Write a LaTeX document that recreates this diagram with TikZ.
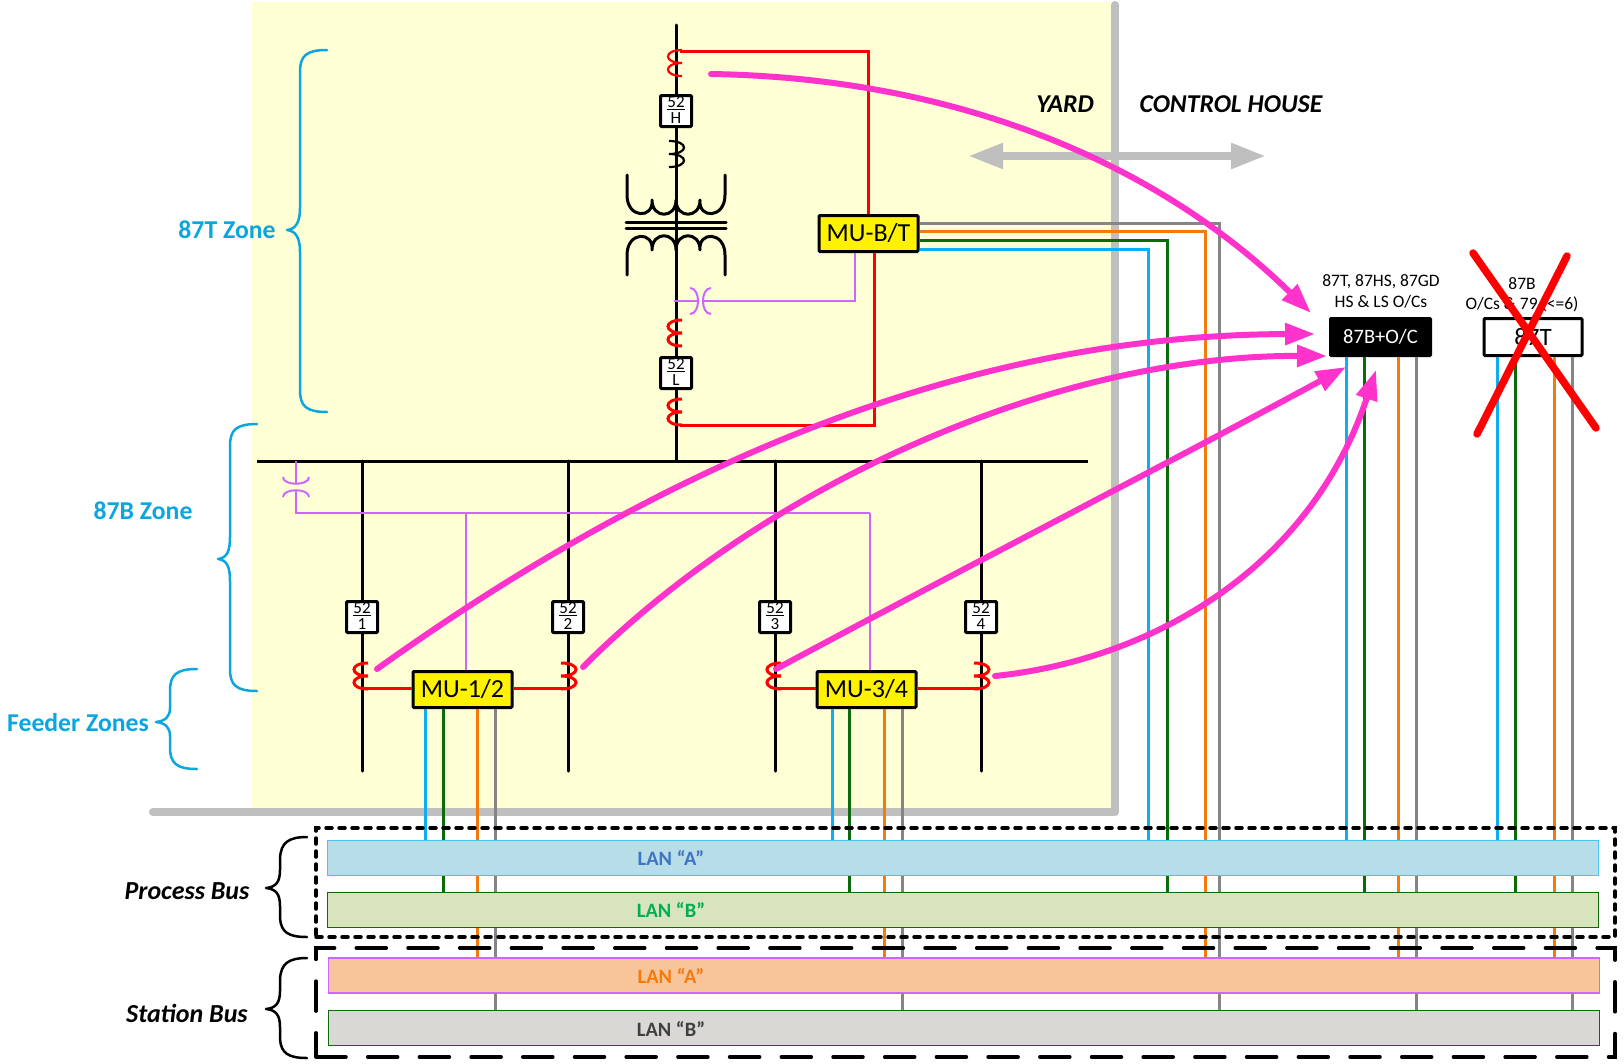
\documentclass[tikz,border=0pt]{standalone}
\usepackage{fontspec}
\setmainfont{Carlito}
\usetikzlibrary{arrows.meta}
\definecolor{bgyellow}{HTML}{FFFFD5}
\definecolor{wall}{HTML}{BFBFBF}
\definecolor{cblue}{HTML}{0CB0F2}
\definecolor{cgreen}{HTML}{0B6B0B}
\definecolor{corange}{HTML}{F47A0C}
\definecolor{cgray}{HTML}{858585}
\definecolor{cpurple}{HTML}{CC66FF}
\definecolor{cpink}{HTML}{FF33CC}
\definecolor{zone}{HTML}{0BA6DF}
\definecolor{lanAf}{HTML}{B7DDE8}
\definecolor{lanBf}{HTML}{D8E4BC}
\definecolor{lanCf}{HTML}{F8C49A}
\definecolor{lanDf}{HTML}{D9D8D4}
\newcommand\fs[1]{\fontsize{#1}{#1}\selectfont}
% coil opening right (E-like) and opening left (3-like)
\newcommand\coilE[3]{\draw[#3] (#1+6,#2) .. controls (#1-12.7,#2) and (#1-12.7,#2+13) .. (#1+6,#2+13) .. controls (#1-12.7,#2+13) and (#1-12.7,#2+26) .. (#1+6,#2+26);}
\newcommand\coilT[3]{\draw[#3] (#1-7,#2) .. controls (#1+13,#2) and (#1+13,#2+13) .. (#1-7,#2+13) .. controls (#1+13,#2+13) and (#1+13,#2+26) .. (#1-7,#2+26);}
\tikzset{
  blk/.style={line width=3pt,black},
  redl/.style={line width=3pt,red},
  purp/.style={line width=2pt,cpurple},
  sblue/.style={line width=3pt,cblue},
  sgreen/.style={line width=3pt,cgreen},
  sorange/.style={line width=3pt,corange},
  sgray/.style={line width=3pt,cgray},
  pinkarrow/.style={line width=6pt,cpink,line cap=round,-{Triangle[length=30pt,width=21pt]}},
  brk/.style={draw=black,line width=3pt,fill=white,minimum width=31pt,minimum height=31pt,inner sep=0pt,rounded corners=1pt},
  brktext/.style={inner sep=0pt,align=center,font=\fontsize{17}{15.5}\selectfont},
  mu/.style={draw=black,line width=3pt,fill=yellow,minimum width=99pt,minimum height=36pt,inner sep=0pt,font=\fs{26},rounded corners=1pt},
  lan/.style={minimum width=1271pt,minimum height=35pt,inner sep=0pt,line width=1.2pt},
  lanlab/.style={font=\fs{20.4}\bfseries,inner sep=0pt},
  zonelab/.style={font=\fs{25.7}\bfseries,text=zone,inner sep=0pt},
  brace/.style={line width=2.5pt,line cap=round,line join=round},
  buslab/.style={font=\fs{26}\bfseries\itshape,inner sep=0pt},
  small/.style={font=\fs{17.5},inner sep=0pt},
  busframe/.style={minimum width=1299pt,minimum height=109pt,inner sep=0pt,line width=3.5pt,line cap=round},
}
\begin{document}
\begin{tikzpicture}[x=1pt,y=-1pt]
\useasboundingbox (0,0) rectangle (1624,1063);
% yard
\fill[bgyellow] (252,2) rectangle (1115,808);
\coordinate (wallA) at (1115,5);
\coordinate (wallB) at (1115,812);
\coordinate (wallC) at (153,812);
\draw[wall,line width=8pt,line cap=round,line join=round] (wallA) -- (wallB) -- (wallC);
\coordinate (yl) at (968,156);
\coordinate (yr) at (1266,156);
\draw[wall,line width=8pt,{Triangle[length=35pt,width=24pt]}-{Triangle[length=35pt,width=24pt]}] (yl) -- (yr);
\node[font=\fs{25.7}\bfseries\itshape,inner sep=0pt] (tyard) at (1065,104) {YARD};
\node[font=\fs{25.7}\bfseries\itshape,inner sep=0pt] (thouse) at (1231,104) {CONTROL HOUSE};

% coordinates
\coordinate (tt) at (676,25);
\coordinate (ft1) at (362,461);\coordinate (fb1) at (362,771);
\coordinate (ft2) at (568,461);\coordinate (fb2) at (568,771);
\coordinate (ft3) at (775,461);\coordinate (fb3) at (775,771);
\coordinate (ft4) at (981,461);\coordinate (fb4) at (981,771);
\coordinate (tb) at (676,461);
\coordinate (busW) at (257,461);\coordinate (busE) at (1088,461);

% primary lines
\draw[blk,line cap=round] (tt) -- (tb);
\draw[blk] (busW) -- (busE);
\foreach \i in {1,2,3,4} \draw[blk,line cap=round] (ft\i) -- (fb\i);

% transformer
\draw[blk,line cap=round,line join=round] (627,175) -- (627,195) .. controls (627,219) and (654,219) .. (652,200) .. controls (652,219) and (676,219) .. (676,200) .. controls (676,219) and (700,219) .. (700,200) .. controls (698,219) and (725,219) .. (725,195) -- (725,175);
\draw[blk,line cap=round] (626,222) -- (726,222);
\draw[blk,line cap=round] (626,228) -- (726,228);
\draw[blk,line cap=round,line join=round] (627,275) -- (627,255) .. controls (627,231) and (654,231) .. (652,250) .. controls (652,231) and (676,231) .. (676,250) .. controls (676,231) and (700,231) .. (700,250) .. controls (698,231) and (725,231) .. (725,255) -- (725,275);
\coilT{676}{141}{line width=2.2pt,black}

% MU boxes
\node[mu] (mubt) at (868.5,233.5) {MU-B/T};
\node[mu] (mu12) at (462.5,689.5) {MU-1/2};
\node[mu] (mu34) at (866.5,689.5) {MU-3/4};

% purple VT on transformer
\coordinate (vtA) at (674,301);
\coordinate (vtB) at (855,301);
\draw[purp] (vtA) -- (698,301);
\draw[purp] (703,301) -- (vtB) -- (vtB |- mubt.south);
\draw[purp] (690,288) .. controls (700.7,288) and (700.7,314) .. (690,314);
\draw[purp] (711,288) .. controls (700.3,288) and (700.3,314) .. (711,314);

% purple VT on bus
\coordinate (pvT) at (296,461);
\coordinate (pvC) at (296,513);
\coordinate (pvD) at (466,513);
\coordinate (pvE) at (870,513);
\draw[purp] (pvT) -- (296,484);
\draw[purp] (296,490) -- (pvC) -- (pvE);
\draw[purp] (283,477) .. controls (283,486) and (309,486) .. (309,477);
\draw[purp] (283,497) .. controls (283,488) and (309,488) .. (309,497);
\draw[purp] (pvD) -- (pvD |- mu12.north);
\draw[purp] (pvE) -- (pvE |- mu34.north);

% red secondary wiring
\coordinate (ctTop) at (680,51);
\coordinate (ctBot) at (680,425);
\coordinate (rt) at (868,51);
\coordinate (rb) at (874,425);
\draw[redl,line join=miter] (ctTop) -- (rt) -- (rt |- mubt.north);
\draw[redl,line join=miter] (ctBot) -- (rb) -- (rb |- mubt.south);
\coordinate (c1) at (362,688);\coordinate (c2) at (568,688);
\coordinate (c3) at (775,688);\coordinate (c4) at (981,688);
\draw[redl] (c1) -- (mu12.west |- c1);
\draw[redl] (mu12.east |- c2) -- (c2);
\draw[redl] (c3) -- (mu34.west |- c3);
\draw[redl] (mu34.east |- c4) -- (c4);
\coilE{676}{50}{line width=2.2pt,red}
\coilE{676}{320}{line width=3pt,red}
\coilE{676}{399}{line width=3pt,red}
\coilE{362}{663}{line width=3pt,red}
\coilT{568}{663}{line width=3pt,red}
\coilE{775}{663}{line width=3pt,red}
\coilT{981}{663}{line width=3pt,red}

% breakers
\foreach \n/\x/\y/\t in {H/676/111/H,L/676/373/L,1/362/617/1,2/568/617/2,3/775/617/3,4/981/617/4}{
  \node[brk] (b52\n) at (\x,\y) {};
  \node[brktext] (t52\n) at ([yshift=1.2pt]b52\n.center) {\underline{52}\\\t};
}

% relays
\node[draw=black,line width=2pt,fill=black,text=white,minimum width=101pt,minimum height=38pt,inner sep=0pt,font=\fs{20.5},rounded corners=1pt] (r87b) at (1380.5,337) {87B+O/C};
\node[draw=black,line width=3pt,fill=white,minimum width=98pt,minimum height=37pt,inner sep=0pt,font=\fs{25},rounded corners=1pt] (r87t) at (1533,337) {87T};
\node[small] (t1a) at (1381,282) {87T, 87HS, 87GD};
\node[small] (t1b) at (1381,302) {HS \& LS O/Cs};
\node[small] (t2a) at (1522,284) {87B};
\node[small] (t2b) at (1522,304) {O/Cs \& 79 (<=6)};

% LAN bars (centres)
\coordinate (lanAc) at (963,858);
\coordinate (lanBc) at (963,910);
\coordinate (lanCc) at (964,975.5);
\coordinate (lanDc) at (964,1028);

% signal lines from MU-B/T
\coordinate (sgray) at (1219,223);
\coordinate (sor) at (1205,231);
\coordinate (sgr) at (1167,240);
\coordinate (sbl) at (1148,249);
\draw[sgray,line join=miter] (mubt.east |- sgray) -- (sgray) -- (1219,1010);
\draw[sorange,line join=miter] (mubt.east |- sor) -- (sor) -- (1205,957);
\draw[sgreen,line join=miter] (mubt.east |- sgr) -- (sgr) -- (1167,892);
\draw[sblue,line join=miter] (mubt.east |- sbl) -- (sbl) -- (1148,840);

% signal lines from MU-1/2, MU-3/4 and relays
\foreach \nd/\xa/\xb/\xc/\xd in {mu12/425/443/477/495,mu34/832/849/884.5/902,r87b/1346/1364/1398/1416,r87t/1497/1515/1554/1572}{
  \draw[sblue]   (\xa,840) -- (\xa,0 |- \nd.south);
  \draw[sgreen]  (\xb,892) -- (\xb,0 |- \nd.south);
  \draw[sorange] (\xc,957) -- (\xc,0 |- \nd.south);
  \draw[sgray]   (\xd,1010) -- (\xd,0 |- \nd.south);
}

% LAN bars
\node[lan,draw=cblue!75!white,fill=lanAf] (lana) at (lanAc) {};
\node[lan,draw=cgreen,fill=lanBf] (lanb) at (lanBc) {};
\node[lan,draw=cpurple,fill=lanCf] (lanc) at (lanCc) {};
\node[lan,draw=cgreen,fill=lanDf] (land) at (lanDc) {};
\node[lanlab,text={rgb,255:red,62;green,116;blue,196}] (la) at (671,858) {LAN “A”};
\node[lanlab,text={rgb,255:red,0;green,176;blue,80}] (lb) at (671,910) {LAN “B”};
\node[lanlab,text=corange] (lc) at (671,976) {LAN “A”};
\node[lanlab,text={rgb,255:red,64;green,64;blue,64}] (ld) at (671,1029) {LAN “B”};

% bus frames
\node[busframe,draw=black,dash pattern=on 6pt off 7pt] (procf) at (965.5,882.5) {};
\node[busframe,draw=black,dash pattern=on 30pt off 21.7pt] (statf) at (965.5,1002.5) {};

% braces
\draw[brace] (307,837) .. controls (288,837) and (281,843) .. (280,858) -- (280,870) .. controls (280,882) and (276,887) .. (266,888) .. controls (276,889) and (280,894) .. (280,906) -- (280,918) .. controls (281,932) and (288,937) .. (307,937);
\draw[brace] (307,958) .. controls (288,958) and (281,964) .. (280,979) -- (280,991) .. controls (280,1003) and (276,1008) .. (266,1009) .. controls (276,1010) and (280,1015) .. (280,1027) -- (280,1039) .. controls (281,1053) and (288,1058) .. (307,1058);
\draw[brace,zone] (327,50) .. controls (306,50) and (300,56) .. (300,72) -- (300,208) .. controls (300,222) and (296,229) .. (287,230) .. controls (296,231) and (300,238) .. (300,252) -- (300,390) .. controls (300,406) and (306,412) .. (327,412);
\draw[brace,zone] (257,424) .. controls (236,424) and (230,430) .. (230,446) -- (230,537) .. controls (230,551) and (227,558) .. (218,559) .. controls (227,560) and (230,567) .. (230,581) -- (230,669) .. controls (230,685) and (236,691) .. (257,691);
\draw[brace,zone] (197,669) .. controls (176,669) and (170,675) .. (170,691) -- (170,708) .. controls (170,717) and (165,721) .. (156,722) .. controls (165,723) and (170,727) .. (170,736) -- (170,747) .. controls (170,763) and (176,769) .. (197,769);

% side labels
\node[zonelab] (z87t) at (227,230) {87T Zone};
\node[zonelab] (z87b) at (143,511) {87B Zone};
\node[zonelab] (zfeed) at (78,723) {Feeder Zones};
\node[buslab] (tproc) at (187,891) {Process Bus};
\node[buslab] (tstat) at (187,1013) {Station Bus};

% pink arrows
\coordinate (p1s) at (711,74);\coordinate (p1e) at (1311,313);
\coordinate (p2s) at (377,669);\coordinate (p2e) at (1315,334);
\coordinate (p3s) at (583,667);\coordinate (p3e) at (1327,356);
\coordinate (p4s) at (776,669);\coordinate (p4e) at (1346,367);
\coordinate (p5s) at (995,676);\coordinate (p5e) at (1376,370);
\draw[pinkarrow] (p1s) .. controls (960,78) and (1160,165) .. (p1e);
\draw[pinkarrow] (p2s) .. controls (620,495) and (930,335) .. (p2e);
\draw[pinkarrow] (p3s) .. controls (770,480) and (1060,355) .. (p3e);
\draw[pinkarrow] (p4s) .. controls (960,570) and (1165,465) .. (p4e);
\draw[pinkarrow] (p5s) .. controls (1150,660) and (1310,570) .. (p5e);

% red cross
\coordinate (xa) at (1473,253);\coordinate (xb) at (1596,428);
\coordinate (xc) at (1567,256);\coordinate (xd) at (1477,434);
\draw[red,line width=7.5pt,line cap=round] (xa) -- (xb);
\draw[red,line width=7.5pt,line cap=round] (xc) -- (xd);
\end{tikzpicture}
\end{document}
